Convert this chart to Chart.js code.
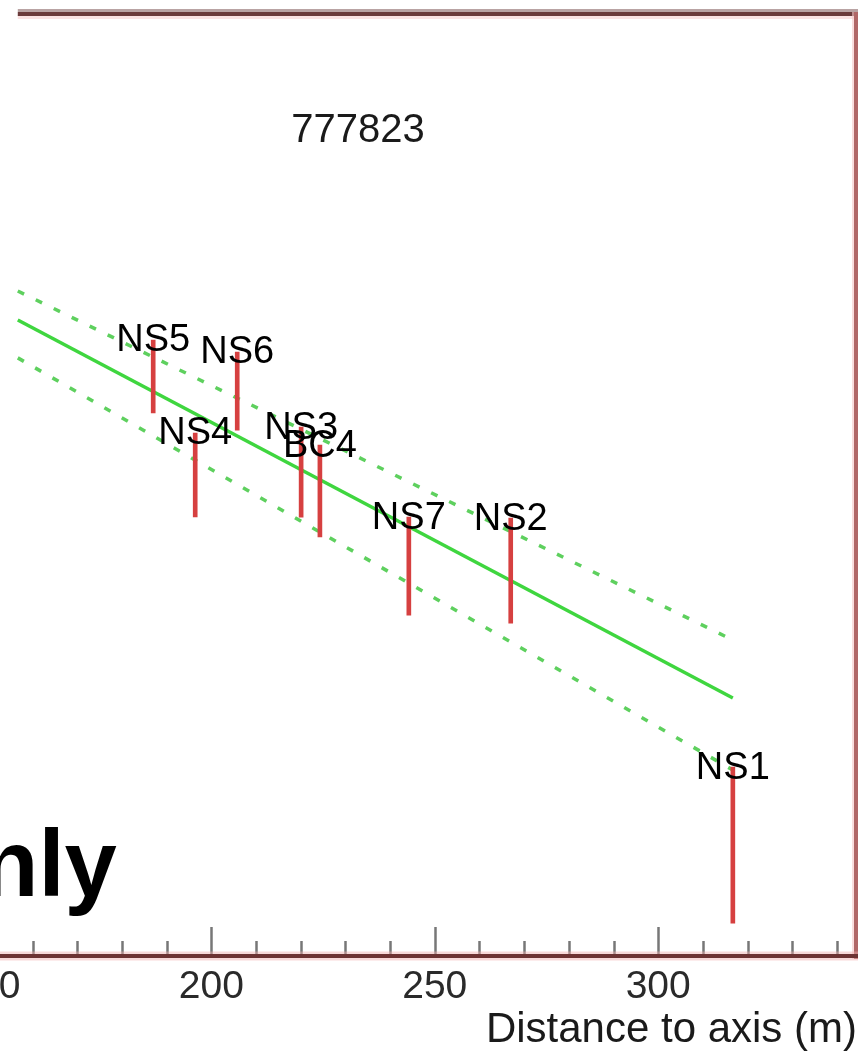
<!DOCTYPE html>
<html><head><meta charset="utf-8">
<script src="https://cdn.jsdelivr.net/npm/chart.js@4.4.1/dist/chart.umd.min.js"></script>
<style>
html,body{margin:0;padding:0;background:#fff;overflow:hidden;width:862px;height:1056px;}
#wrap{position:absolute;left:-40px;top:0;width:898px;height:1056px;}
canvas{display:block;filter:blur(0.55px);}
#overlay{position:absolute;left:-19px;top:817px;margin:0;font:bold 94px/94px "Liberation Sans", Arial, Helvetica, sans-serif;color:#000;white-space:nowrap;}
</style></head><body>
<div id="wrap"><canvas id="c" width="898" height="1056"></canvas></div>
<div id="overlay"></div>
<script>
// ---- data ----
const stations   = ['NS5', 'NS4', 'NS6', 'NS3', 'BC4', 'NS7', 'NS2', 'NS1'];
const distances  = [187.0, 196.4, 205.8, 220.1, 224.3, 244.2, 267.0, 316.7];
const logDensity = [2.465, 2.047, 2.403, 2.059, 1.979, 1.660, 1.641, 0.475];
const errors     = [0.155, 0.178, 0.166, 0.191, 0.195, 0.208, 0.223, 0.331];
const fitX       = [156.7, 316.7];
const fitCentral = [2.705, 1.100];
const fitUpper   = [2.828, 1.346];
const fitLower   = [2.544, 0.794];
const majorTicks = [150, 200, 250, 300];
const minorTicks = [160, 170, 180, 190, 210, 220, 230, 240, 260, 270, 280, 290, 310, 320, 330, 340];
const eventId    = '777823';
const xTitle     = 'Distance to axis (m)';
const overlayText = 'nly';

document.getElementById('overlay').textContent = overlayText;

const OFF = 40; // canvas is shifted 40px left of the page
const FONT = '"Liberation Sans", Arial, Helvetica, sans-serif';

const barData = distances.map((d, i) => ({x: d, y: [logDensity[i] - errors[i], logDensity[i] + errors[i]]}));
const lineOf = ys => fitX.map((x, i) => ({x: x, y: ys[i]}));

const deco = {
  id: 'deco',
  beforeDatasetsDraw(chart) {
    const {ctx, chartArea: a, scales: {x}} = chart;
    ctx.save();
    const left0 = x.getPixelForValue(fitX[0]);
    // top frame
    ctx.lineCap = 'butt';
    ctx.strokeStyle = 'rgba(245,200,200,0.5)'; ctx.lineWidth = 4;
    ctx.beginPath(); ctx.moveTo(left0, a.top + 2); ctx.lineTo(a.right + 2, a.top + 2); ctx.stroke();
    ctx.strokeStyle = '#b9a3a3'; ctx.lineWidth = 3;
    ctx.beginPath(); ctx.moveTo(left0, a.top - 4.5); ctx.lineTo(a.right + 2, a.top - 4.5); ctx.stroke();
    ctx.strokeStyle = '#6b3b3b'; ctx.lineWidth = 4;
    ctx.beginPath(); ctx.moveTo(left0, a.top - 1); ctx.lineTo(a.right + 2, a.top - 1); ctx.stroke();
    // right frame
    ctx.strokeStyle = 'rgba(245,200,200,0.6)'; ctx.lineWidth = 9;
    ctx.beginPath(); ctx.moveTo(a.right + 0.5, a.top - 3); ctx.lineTo(a.right + 0.5, a.bottom + 2); ctx.stroke();
    ctx.strokeStyle = '#b06767'; ctx.lineWidth = 5;
    ctx.beginPath(); ctx.moveTo(a.right + 0.5, a.top - 3); ctx.lineTo(a.right + 0.5, a.bottom + 2); ctx.stroke();
    // ticks
    ctx.strokeStyle = '#777'; ctx.lineWidth = 2.5;
    majorTicks.concat(minorTicks).forEach(v => {
      const px = Math.round(x.getPixelForValue(v)) + 0.5;
      const len = majorTicks.includes(v) ? 28 : 14;
      ctx.beginPath(); ctx.moveTo(px, a.bottom - 2); ctx.lineTo(px, a.bottom - 2 - len); ctx.stroke();
    });
    // bottom axis line
    ctx.strokeStyle = 'rgba(240,170,170,0.45)'; ctx.lineWidth = 9;
    ctx.beginPath(); ctx.moveTo(0, a.bottom - 1); ctx.lineTo(a.right + 3, a.bottom - 1); ctx.stroke();
    ctx.strokeStyle = '#6e3333'; ctx.lineWidth = 4;
    ctx.beginPath(); ctx.moveTo(0, a.bottom - 1); ctx.lineTo(a.right + 3, a.bottom - 1); ctx.stroke();
    // tick labels
    ctx.fillStyle = '#2a2a2a'; ctx.font = '39px ' + FONT;
    ctx.textAlign = 'center'; ctx.textBaseline = 'alphabetic';
    majorTicks.forEach(v => ctx.fillText(String(v), x.getPixelForValue(v), a.bottom + 41));
    // axis title
    ctx.fillStyle = '#1a1a1a'; ctx.font = '42px ' + FONT; ctx.textAlign = 'right';
    ctx.fillText(xTitle, a.right + 1, a.bottom + 85);
    ctx.restore();
  },
  afterDatasetsDraw(chart) {
    const {ctx, scales: {x, y}} = chart;
    ctx.save();
    ctx.fillStyle = '#000'; ctx.font = '38px ' + FONT;
    ctx.textAlign = 'center'; ctx.textBaseline = 'middle';
    stations.forEach((s, i) => {
      ctx.fillText(s, x.getPixelForValue(distances[i]), y.getPixelForValue(logDensity[i] + errors[i]) + 1);
    });
    ctx.fillStyle = '#1a1a1a'; ctx.font = '40px ' + FONT;
    ctx.fillText(eventId, 358 + OFF, 131);
    ctx.restore();
  }
};

new Chart(document.getElementById('c'), {
  type: 'scatter',
  data: {
    datasets: [
      {type: 'bar', label: 'stations', data: barData, backgroundColor: '#d64040', borderWidth: 0,
       barThickness: 4, grouped: false},
      {type: 'line', label: 'fit', data: lineOf(fitCentral), borderColor: '#3fd63f', borderWidth: 3.5,
       pointRadius: 0, fill: false, tension: 0},
      {type: 'line', label: 'fit + 1σ', data: lineOf(fitUpper), borderColor: '#5ed05e', borderWidth: 3.5,
       borderDash: [7, 13], pointRadius: 0, fill: false, tension: 0},
      {type: 'line', label: 'fit - 1σ', data: lineOf(fitLower), borderColor: '#5ed05e', borderWidth: 3.5,
       borderDash: [7, 13], pointRadius: 0, fill: false, tension: 0}
    ]
  },
  options: {
    responsive: false, animation: false, devicePixelRatio: 1,
    layout: {padding: {left: 27.85, right: 2, top: 15, bottom: 99}},
    plugins: {legend: {display: false}, tooltip: {enabled: false}},
    scales: {
      x: {type: 'linear', display: false, offset: false, min: 150, max: 344.26},
      y: {type: 'linear', display: false, min: 0, max: 4}
    }
  },
  plugins: [deco]
});
</script>
</body></html>
